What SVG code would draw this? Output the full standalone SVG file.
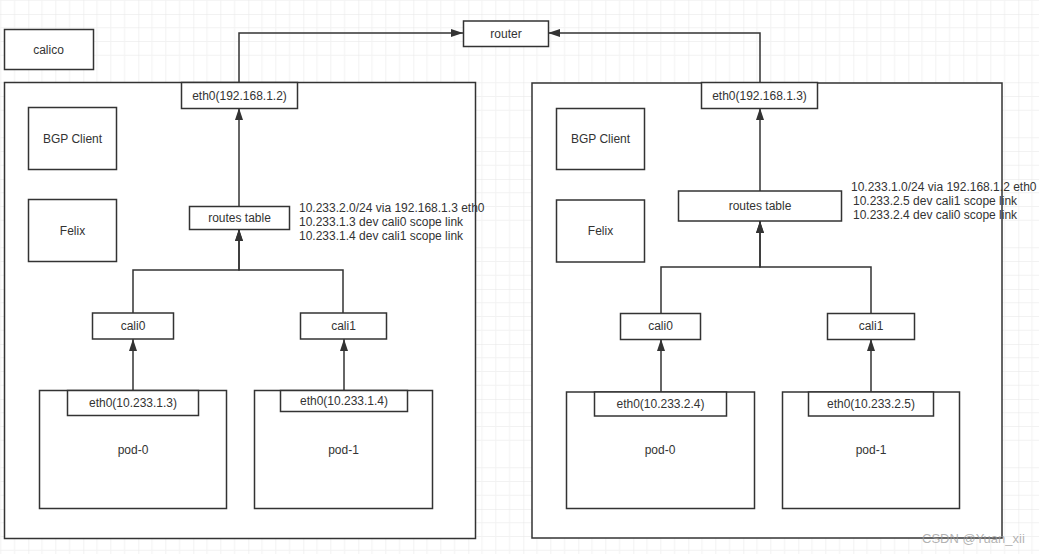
<svg xmlns="http://www.w3.org/2000/svg" width="1039" height="554" viewBox="0 0 1039 554">
<style>
.box{fill:#fff;stroke:#333;stroke-width:1.5}
.t{font-family:"Liberation Sans",Arial,sans-serif;font-size:12px;fill:#333;text-anchor:middle;dominant-baseline:central}
.r{font-family:"Liberation Sans",Arial,sans-serif;font-size:12px;fill:#333}
.c{fill:none;stroke:#333;stroke-width:1.5}
</style>
<defs>
<pattern id="grid" x="28.3" y="14" width="55" height="55" patternUnits="userSpaceOnUse">
<path d="M13.75,0V55M27.5,0V55M41.25,0V55M0,13.75H55M0,27.5H55M0,41.25H55" stroke="#f2f2f2" stroke-width="1" fill="none"/>
<path d="M0,0V55M0,0H55" stroke="#e6e6e6" stroke-width="1" fill="none"/>
</pattern>
<marker id="arr" markerWidth="12" markerHeight="8" refX="12" refY="4" orient="auto" markerUnits="userSpaceOnUse">
<path d="M0,0L12,4L0,8z" fill="#333"/>
</marker>
</defs>
<rect width="1039" height="554" fill="#fff"/>
<rect width="1039" height="554" fill="url(#grid)"/>

<g id="host-1"><rect class="box" x="4.5" y="82.5" width="471" height="456"/></g>
<g id="host-2"><rect class="box" x="532" y="83" width="470" height="455"/></g>

<g id="connectors">
<path class="c" d="M239,82V33H463" marker-end="url(#arr)"/>
<path class="c" d="M760,82V33H548" marker-end="url(#arr)"/>
<path class="c" d="M239,206V108" marker-end="url(#arr)"/>
<path class="c" d="M760,191V108" marker-end="url(#arr)"/>
<path class="c" d="M133,313V270H239V229" marker-end="url(#arr)"/>
<path class="c" d="M343,313V270H239V229" marker-end="url(#arr)"/>
<path class="c" d="M661,313V267H760V221" marker-end="url(#arr)"/>
<path class="c" d="M871,313V267H760V221" marker-end="url(#arr)"/>
<path class="c" d="M133,390V339" marker-end="url(#arr)"/>
<path class="c" d="M344,390V339" marker-end="url(#arr)"/>
<path class="c" d="M661,392V339" marker-end="url(#arr)"/>
<path class="c" d="M871,392V339" marker-end="url(#arr)"/>
</g>

<g id="calico"><rect class="box" x="4.5" y="29.5" width="89" height="40"/><text class="t" x="48.5" y="49.5">calico</text></g>
<g id="router"><rect class="box" x="463.5" y="21" width="85" height="25.5"/><text class="t" x="506" y="33.5">router</text></g>

<g id="h1-eth0"><rect class="box" x="181.5" y="82.5" width="116" height="26"/><text class="t" x="239.5" y="95.5">eth0(192.168.1.2)</text></g>
<g id="h1-bgp"><rect class="box" x="28.5" y="107.5" width="88" height="62"/><text class="t" x="72.5" y="138.5">BGP Client</text></g>
<g id="h1-felix"><rect class="box" x="28.5" y="199.5" width="88" height="62"/><text class="t" x="72.5" y="230.5">Felix</text></g>
<g id="h1-routes"><rect class="box" x="189.5" y="206.5" width="100" height="23"/><text class="t" x="239.5" y="218">routes table</text></g>
<g id="h1-routes-text">
<text class="r" x="299" y="212">10.233.2.0/24 via 192.168.1.3 eth0</text>
<text class="r" x="299" y="226">10.233.1.3 dev cali0 scope link</text>
<text class="r" x="299" y="240">10.233.1.4 dev cali1 scope link</text>
</g>
<g id="h1-cali0"><rect class="box" x="92.5" y="313" width="81" height="26"/><text class="t" x="133" y="326">cali0</text></g>
<g id="h1-cali1"><rect class="box" x="300.5" y="313" width="86" height="26"/><text class="t" x="343.5" y="326">cali1</text></g>
<g id="h1-pod0"><rect class="box" x="39.5" y="390.5" width="187" height="118"/><rect class="box" x="67.5" y="390.5" width="131" height="25"/><text class="t" x="133" y="403">eth0(10.233.1.3)</text><text class="t" x="133" y="450">pod-0</text></g>
<g id="h1-pod1"><rect class="box" x="254.5" y="390.5" width="178" height="118"/><rect class="box" x="280.5" y="390.5" width="127" height="21"/><text class="t" x="344" y="401">eth0(10.233.1.4)</text><text class="t" x="343.5" y="450">pod-1</text></g>

<g id="h2-eth0"><rect class="box" x="701.5" y="82.5" width="116" height="26"/><text class="t" x="759.5" y="95.5">eth0(192.168.1.3)</text></g>
<g id="h2-bgp"><rect class="box" x="556.5" y="108.5" width="88" height="61"/><text class="t" x="600.5" y="139">BGP Client</text></g>
<g id="h2-felix"><rect class="box" x="556.5" y="200" width="88" height="62"/><text class="t" x="600.5" y="231">Felix</text></g>
<g id="h2-routes"><rect class="box" x="678.5" y="191" width="163" height="30"/><text class="t" x="760" y="206">routes table</text></g>
<g id="h2-routes-text">
<text class="r" x="851" y="191">10.233.1.0/24 via 192.168.1.2 eth0</text>
<text class="r" x="853" y="205">10.233.2.5 dev cali1 scope link</text>
<text class="r" x="853" y="219">10.233.2.4 dev cali0 scope link</text>
</g>
<g id="h2-cali0"><rect class="box" x="620.5" y="313.5" width="80" height="26"/><text class="t" x="660.5" y="326">cali0</text></g>
<g id="h2-cali1"><rect class="box" x="827.5" y="313.5" width="87" height="26"/><text class="t" x="871" y="326">cali1</text></g>
<g id="h2-pod0"><rect class="box" x="566.5" y="392" width="188" height="116.5"/><rect class="box" x="594.5" y="392" width="132" height="24"/><text class="t" x="660.5" y="403.5">eth0(10.233.2.4)</text><text class="t" x="660" y="450">pod-0</text></g>
<g id="h2-pod1"><rect class="box" x="782.5" y="392" width="177" height="116.5"/><rect class="box" x="808.5" y="392" width="125" height="24"/><text class="t" x="871" y="403.5">eth0(10.233.2.5)</text><text class="t" x="871" y="450">pod-1</text></g>

<text x="922" y="542.5" font-family="'Liberation Sans',Arial,sans-serif" font-size="13" fill="#999" fill-opacity="0.75">CSDN @Yuan_xii</text>
</svg>
